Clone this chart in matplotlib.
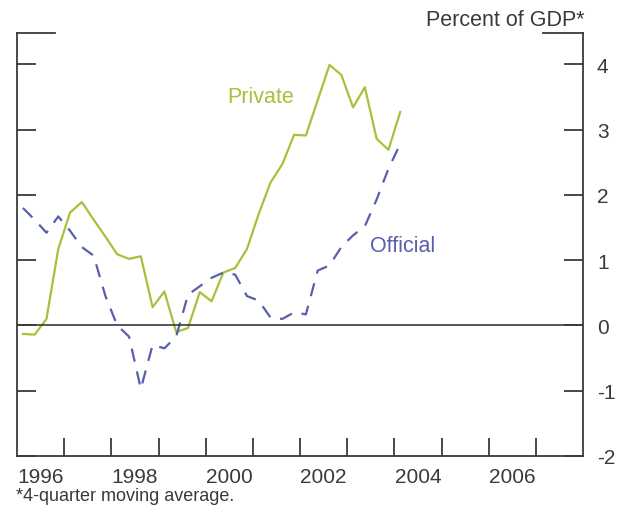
import numpy as np
from matplotlib import pyplot as plt

plt.rcParams['font.family'] = ['Liberation Sans', 'DejaVu Sans']
plt.rcParams['axes.unicode_minus'] = False

# quarterly observations, 1996:Q1 .. 2004:Q1 (4-quarter moving average, percent of GDP)
quarters = 1996.125 + 0.25 * np.arange(33)
private = [-0.13, -0.14, 0.10, 1.17, 1.73, 1.89, 1.62, 1.36, 1.09, 1.02, 1.06,
           0.28, 0.52, -0.10, -0.04, 0.51, 0.37, 0.81, 0.88, 1.17, 1.71, 2.19,
           2.47, 2.92, 2.91, 3.45, 3.99, 3.84, 3.34, 3.65, 2.86, 2.69, 3.27]
official = [1.80, 1.62, 1.42, 1.67, 1.45, 1.20, 1.07, 0.45, 0.00, -0.17, -0.97,
            -0.30, -0.35, -0.17, 0.47, 0.60, 0.73, 0.81, 0.78, 0.45, 0.38, 0.12,
            0.10, 0.20, 0.17, 0.84, 0.92, 1.20, 1.38, 1.52, 1.93, 2.40, 2.78]

year_ticks = list(range(1997, 2008))
year_labels = ['1996', '1998', '2000', '2002', '2004', '2006']
y_ticks = [-2, -1, 0, 1, 2, 3, 4]

green = '#a8c03c'
blue = '#5860ac'
ink = '#3a3a3a'

fig = plt.figure(figsize=(6.26, 5.10), dpi=100)
ax = fig.add_axes([17 / 626, 53 / 510, 566 / 626, 423 / 510])

ax.plot(quarters, private, color=green, lw=1.6)
ax.plot(quarters, official, color=blue, lw=1.6, dashes=(6, 4.5))
ax.axhline(0, color=ink, lw=1.2)

ax.set_xlim(1996, 2008)
ax.set_ylim(-2, 4.48)

for s in ['left', 'right', 'bottom']:
    ax.spines[s].set_color(ink)
    ax.spines[s].set_linewidth(1.3)
ax.spines['top'].set_visible(False)
ax.plot([0, 0.067], [1, 1], transform=ax.transAxes, color=ink, lw=1.3, clip_on=False)
ax.plot([0.929, 1], [1, 1], transform=ax.transAxes, color=ink, lw=1.3, clip_on=False)

ax.set_xticks(year_ticks)
ax.set_xticklabels([])
ax.set_xticks([int(l) + 0.5 for l in year_labels], minor=True)
ax.set_xticklabels(year_labels, minor=True)
ax.tick_params(axis='x', which='major', direction='in', length=13, width=1.3, color=ink)
ax.tick_params(axis='x', which='minor', length=0, pad=8, labelsize=15, labelcolor=ink)

ax.set_yticks(y_ticks)
ax.tick_params(axis='y', which='major', direction='in', length=14, width=1.3, color=ink,
               left=True, right=True, labelleft=False, labelright=True,
               pad=10, labelsize=15, labelcolor=ink)

ax.text(2000.45, 3.5, 'Private', color=green, fontsize=15.5, va='center')
ax.text(2003.48, 1.22, 'Official', color=blue, fontsize=15.5, va='center')

fig.text(585 / 626, 1 - 20 / 510, 'Percent of GDP*', ha='right', va='center',
         fontsize=15.5, color=ink)
fig.text(16 / 626, 1 - 497 / 510, '*4-quarter moving average.', ha='left', va='center',
         fontsize=13, color=ink)

fig.savefig('out.png', dpi=100)
